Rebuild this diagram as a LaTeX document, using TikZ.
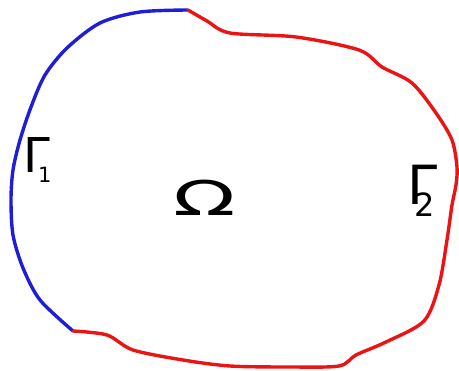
\documentclass[tikz,border=0pt]{standalone}
\usepackage{fontspec}
\newfontfamily\handfont{DejaVu Sans}
\tikzset{
  bnd/.style={line width=3.4pt, line cap=round, line join=round},
  lbl/.style={inner sep=0pt, text=black},
}
\newcommand{\fsz}[1]{\fontsize{#1}{#1}\selectfont}
\definecolor{penblue}{RGB}{30,30,215}
\definecolor{penred}{RGB}{235,20,20}
\begin{document}
\begin{tikzpicture}[x=1pt,y=-1pt]
\useasboundingbox (0,0) rectangle (459,371);
\draw[bnd, penblue] plot[smooth, tension=0.5] coordinates {
 (188,10) (140,12) (100,23) (67,48) (45,75) (31,107) (20,140) (13,170)
 (11,200) (13,235) (23,268) (40,300) (73,331)};
\draw[bnd, penred] plot[smooth, tension=0.5] coordinates {
 (73,331) (107,335) (133,350) (183,360) (230,366) (290,367) (339,366)
 (356,355) (386,342) (424,321) (439,285) (447,240) (452,205) (456,185)
 (457,167) (452,140) (436,113) (412,83) (382,67) (359,50) (296,37)
 (230,33) (207,21) (188,10)};
\node[lbl, anchor=base west] (g1) at (23,173)
  {\handfont\fsz{48}Γ\kern-11.7pt\raisebox{-10pt}{\fsz{21}1}};
\node[lbl, xscale=1.7] (om) at (205,197.5) {\handfont\fsz{48}Ω};
\node[lbl, anchor=base west] (g2) at (407.7,205)
  {\handfont\fsz{54}Γ\kern-23.4pt\raisebox{-12pt}{\fsz{32}2}};
\end{tikzpicture}
\end{document}
